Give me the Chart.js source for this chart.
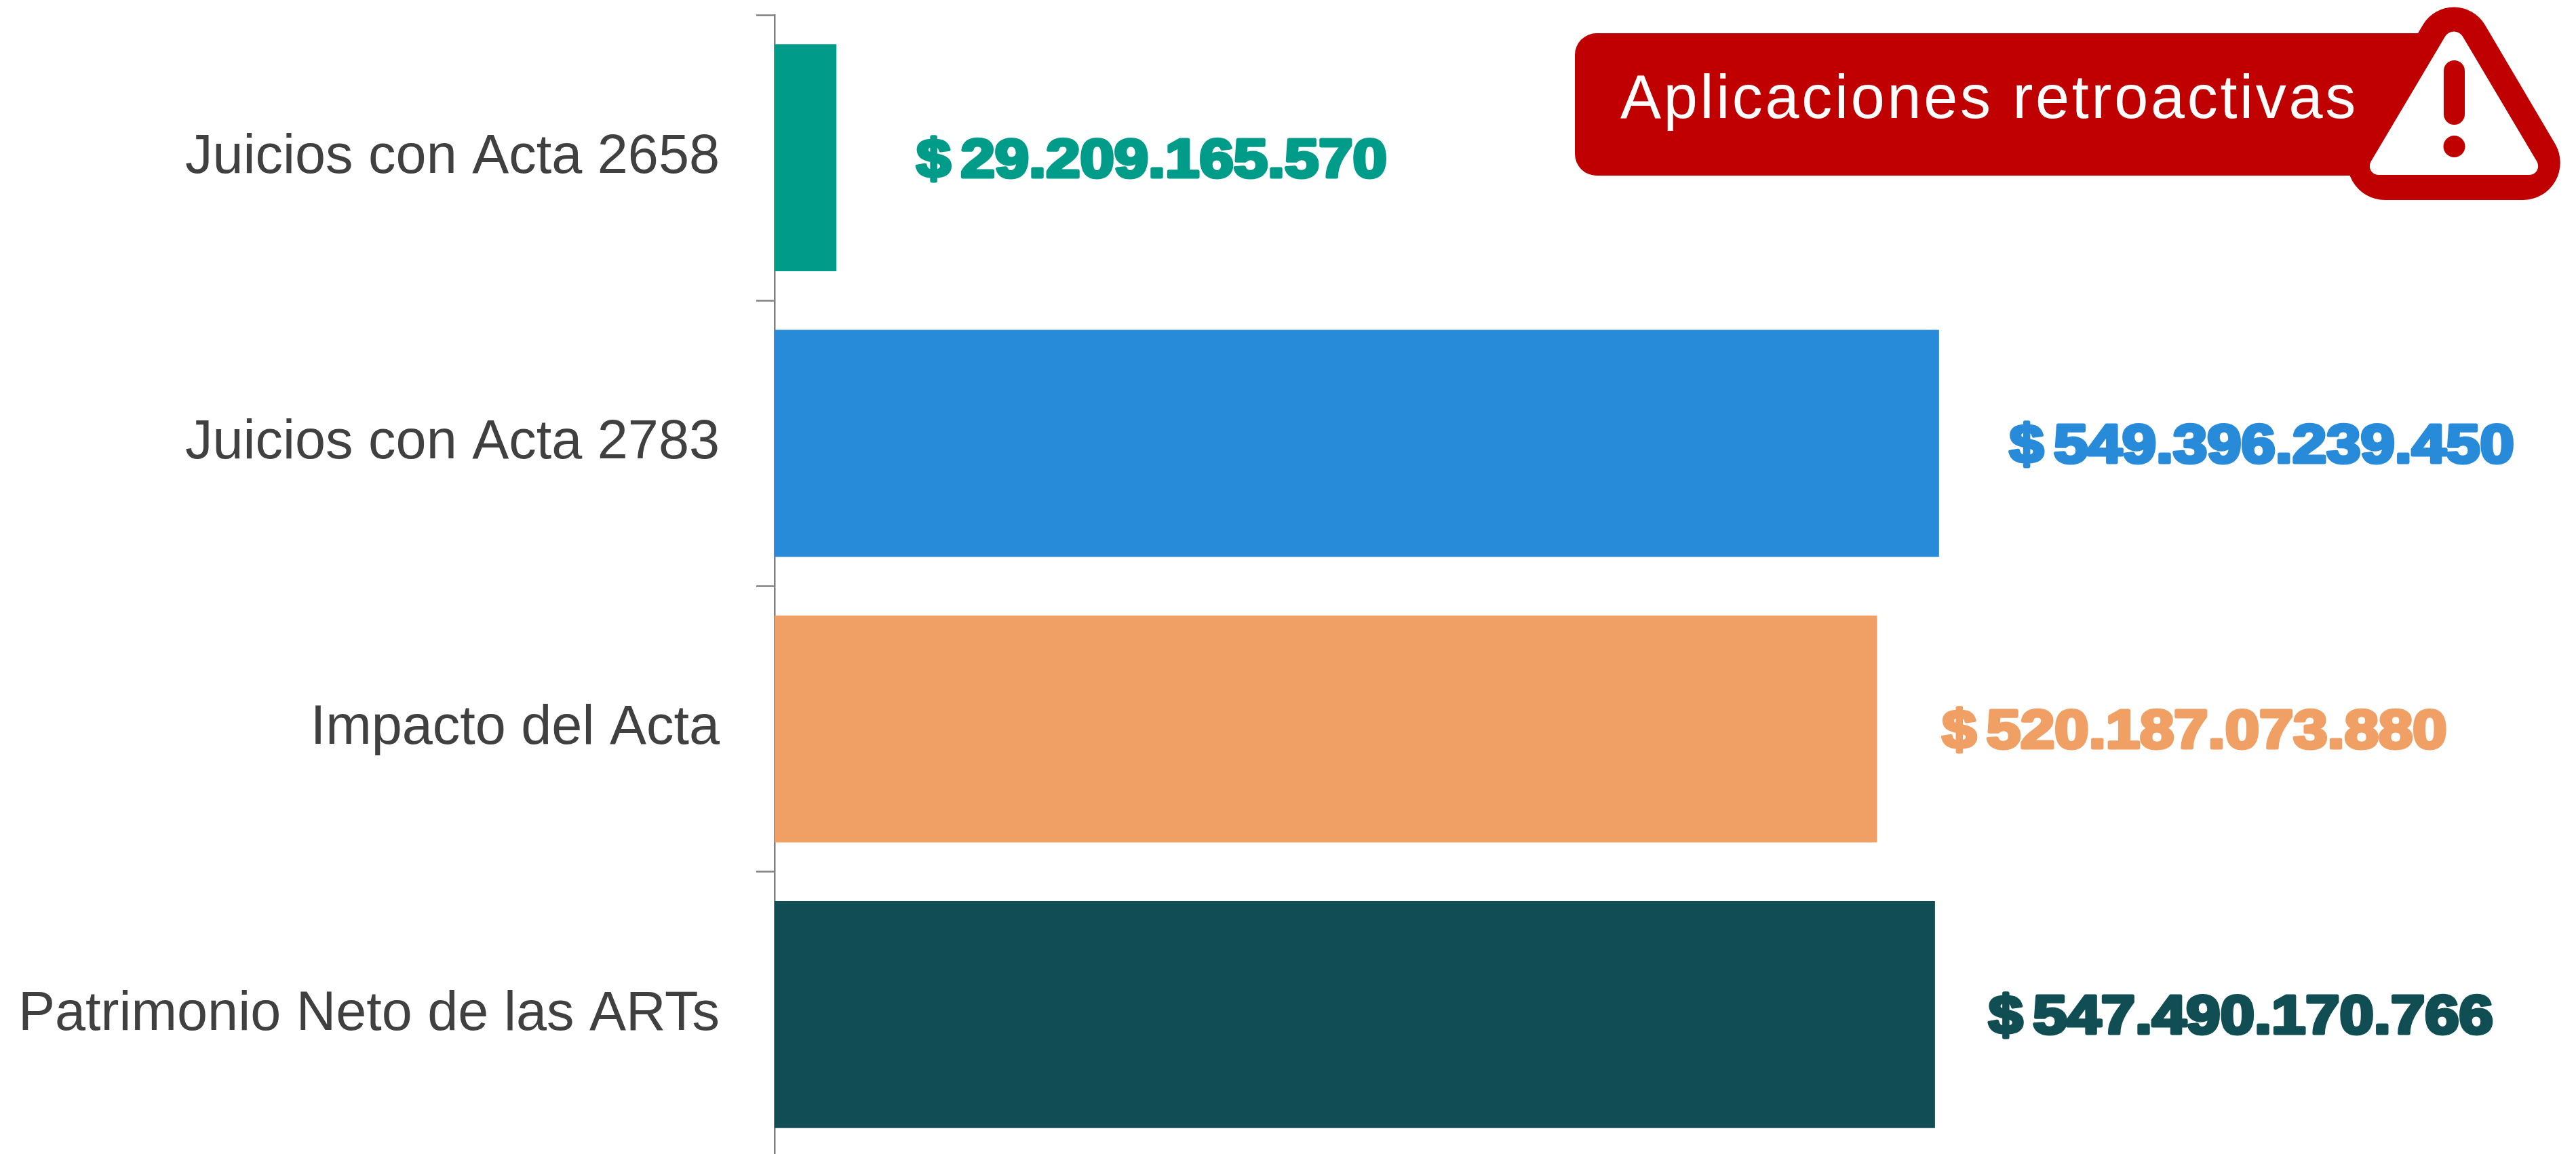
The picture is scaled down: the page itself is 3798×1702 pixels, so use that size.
<!DOCTYPE html>
<html>
<head>
<meta charset="utf-8">
<title>Aplicaciones retroactivas</title>
<script src="https://cdn.jsdelivr.net/npm/chart.js@4"></script>
<style>
  html, body { margin: 0; padding: 0; background: #fff; overflow: hidden; height: 1702px; }
  canvas { display: block; }
</style>
</head>
<body>
<!-- a bit taller than the window: the last category band runs past the bottom edge in the original -->
<canvas id="artChart" width="3798" height="1707"></canvas>
<script>
const categories = ['Juicios con Acta 2658', 'Juicios con Acta 2783', 'Impacto del Acta', 'Patrimonio Neto de las ARTs'];
const montos = [29209165570, 549396239450, 520187073880, 547490170766];
const barColors = ['#009C8A', '#288BDA', '#F0A065', '#104E54'];
const bannerText = 'Aplicaciones retroactivas';

// gap between bar end and its label, not regular in the original
const labelGaps = [118, 104, 96, 79];

function formatMonto(v) {
  return '$ ' + String(v).replace(/\B(?=(\d{3})+$)/g, '.');
}

// value labels next to each bar
const valueLabels = {
  id: 'valueLabels',
  afterDatasetsDraw(chart) {
    const ctx = chart.ctx;
    chart.getDatasetMeta(0).data.forEach((bar, i) => {
      ctx.save();
      ctx.translate(bar.x + labelGaps[i], bar.y + 28);
      ctx.scale(1.13, 1);
      ctx.font = 'bold 80px "Liberation Sans"';
      ctx.wordSpacing = '-9px';
      ctx.textAlign = 'left';
      ctx.textBaseline = 'alphabetic';
      ctx.lineJoin = 'round';
      ctx.lineWidth = 5;
      ctx.strokeStyle = barColors[i];
      ctx.fillStyle = barColors[i];
      ctx.strokeText(formatMonto(montos[i]), 0, 0);
      ctx.fillText(formatMonto(montos[i]), 0, 0);
      ctx.restore();
    });
  }
};

function roundedPoly(ctx, pts) {
  ctx.beginPath();
  ctx.moveTo((pts[0][0] + pts[2][0]) / 2, (pts[0][1] + pts[2][1]) / 2);
  pts.forEach((p, i) => {
    const next = pts[(i + 1) % pts.length];
    ctx.arcTo(p[0], p[1], next[0], next[1], p[2]);
  });
  ctx.closePath();
}

// red banner with the warning triangle, top right
const warningBanner = {
  id: 'warningBanner',
  afterDraw(chart) {
    const ctx = chart.ctx;
    ctx.save();
    ctx.fillStyle = '#C00000';
    ctx.beginPath();
    ctx.roundRect(2322, 49, 1318, 210, 32);
    ctx.fill();

    roundedPoly(ctx, [[3618, -41, 53], [3816, 295, 55], [3420, 295, 55]]);
    ctx.fill();

    ctx.fillStyle = '#FFFFFF';
    roundedPoly(ctx, [[3618, 32, 15], [3752, 258, 13], [3484, 258, 13]]);
    ctx.fill();

    ctx.fillStyle = '#C00000';
    ctx.beginPath();
    ctx.roundRect(3603, 89, 31, 95, 15.5);
    ctx.fill();
    ctx.beginPath();
    ctx.arc(3618.5, 216, 16, 0, Math.PI * 2);
    ctx.fill();

    ctx.fillStyle = '#FFFFFF';
    ctx.font = '90px "Liberation Sans"';
    ctx.letterSpacing = '3.7px';
    ctx.textAlign = 'left';
    ctx.textBaseline = 'alphabetic';
    ctx.fillText(bannerText, 2389, 174);
    ctx.restore();
  }
};

new Chart(document.getElementById('artChart').getContext('2d'), {
  type: 'bar',
  data: {
    labels: categories,
    datasets: [{
      data: montos,
      backgroundColor: barColors,
      barPercentage: 0.795,
      categoryPercentage: 1
    }]
  },
  options: {
    indexAxis: 'y',
    responsive: false,
    animation: false,
    devicePixelRatio: 1,
    layout: { padding: { top: 22, bottom: 0, left: 0, right: 781 } },
    plugins: {
      legend: { display: false },
      title: { display: false },
      tooltip: { enabled: false }
    },
    scales: {
      x: { display: false, min: 0, max: 600000000000 },
      y: {
        afterFit(scale) {
          scale.width = 1142;
          // labels sit mid band, no need for the extra room chart.js reserves
          scale.paddingTop = 0;
          scale.paddingBottom = 0;
        },
        border: { display: true, color: '#808080', width: 2.5 },
        grid: { drawOnChartArea: false, drawTicks: true, tickLength: 27, tickWidth: 2.5, tickColor: '#808080', offset: true },
        ticks: {
          autoSkip: false,
          color: '#404040',
          padding: 54,
          font: { family: '"Liberation Sans"', size: 81 }
        }
      }
    }
  },
  plugins: [valueLabels, warningBanner]
});
</script>
</body>
</html>
